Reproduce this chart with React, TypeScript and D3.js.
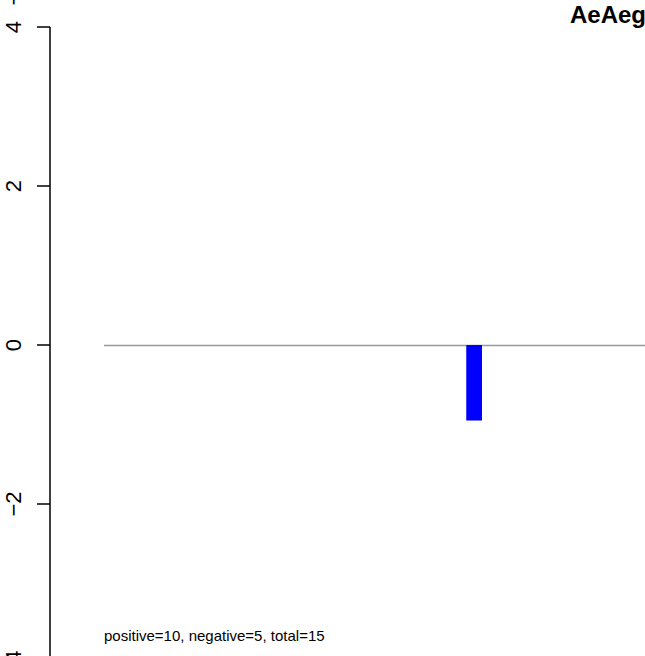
import React from "react";
import * as d3 from "d3";

const W = 645;
const H = 656;

// y-axis ticks
const yTicks = [-4, -2, 0, 2, 4];
// bar values (index = position along x); only one non-zero bar visible
const barValues = [
  0, 0, 0, 0, 0, 0, 0, 0, 0, 0, 0, 0, 0, 0, 0, 0, 0, 0, 0, 0, 0, 0, 0, -0.95,
  0, 0, 0, 0, 0, 0, 0, 0, 0, 0, 0, 0, 0, 0, 0, 0,
];
const titleText = "AeAegypti";
const summaryText = "positive=10, negative=5, total=15";

export default function App() {
  const y = d3.scaleLinear().domain([-4, 4]).range([663, 27]);
  const x = d3.scaleLinear().domain([0, barValues.length]).range([104, 104 + barValues.length * 15.75]);
  const axisX = 50;
  return (
    <svg
      width={W}
      height={H}
      style={{ position: "absolute", left: 0, top: 0, background: "#fff" }}
      fontFamily="Liberation Sans, Arial, sans-serif"
    >
      <rect x={0} y={0} width={W} height={H} fill="#fff" />
      {/* baseline of zero-height bars */}
      <line x1={x(0)} x2={W + 20} y1={y(0) + 0.5} y2={y(0) + 0.5} stroke="#999" strokeWidth={1.4} />
      {barValues.map((v, i) =>
        v !== 0 ? (
          <rect
            key={i}
            x={x(i)}
            width={x(i + 1) - x(i)}
            y={y(Math.max(0, v))}
            height={Math.abs(y(v) - y(0))}
            fill="#0000ff"
          />
        ) : null
      )}
      {/* y axis */}
      <line x1={axisX} x2={axisX} y1={y(4)} y2={y(-4)} stroke="#000" strokeWidth={1.5} />
      {yTicks.map((t) => (
        <g key={t}>
          <line x1={axisX - 13} x2={axisX} y1={y(t)} y2={y(t)} stroke="#000" strokeWidth={1.5} />
          <text
            transform={`translate(20.5,${y(t)}) rotate(-90)`}
            textAnchor="middle"
            fontSize={22}
          >
            {t < 0 ? `\u2212${Math.abs(t)}` : `${t}`}
          </text>
        </g>
      ))}
      {/* label from panel above, only its minus sign shows */}
      <text transform={`translate(20.5,${y(-4) - 670}) rotate(-90)`} textAnchor="middle" fontSize={22}>
        {"\u22124"}
      </text>
      <text x={570} y={23} fontSize={24} fontWeight="bold">
        {titleText}
      </text>
      <text x={104} y={641} fontSize={15}>
        {summaryText}
      </text>
    </svg>
  );
}
